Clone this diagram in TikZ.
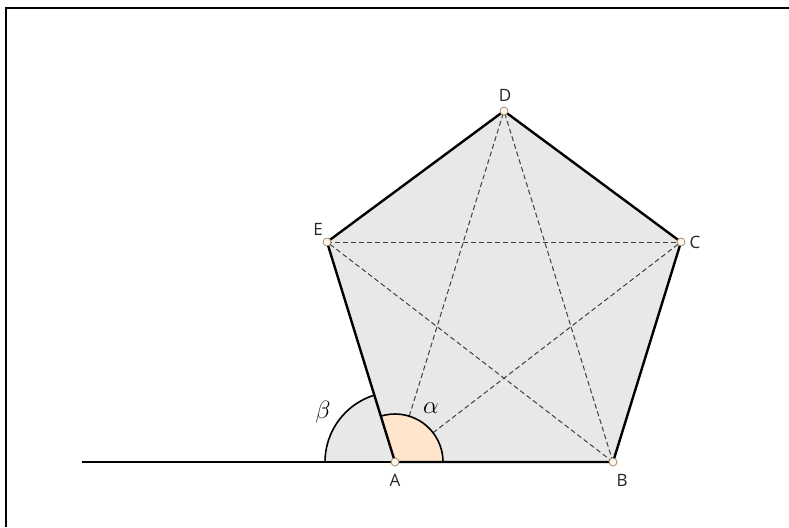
\documentclass[tikz,border=0pt]{standalone}
\usepackage{fontspec}
\setsansfont{Open Sans}
\usetikzlibrary{calc}
\begin{document}
\begin{tikzpicture}[x=1pt,y=-1pt,
  edge/.style={line width=2.4pt,black},
  diag/.style={line width=1pt,black!75,dash pattern=on 5pt off 3pt},
  pt/.style={circle,inner sep=0pt,minimum size=8pt,draw=brown!60!black!70,fill=orange!8,line width=0.7pt},
  lab/.style={font=\sffamily\fontsize{17}{17}\selectfont,text=black!85},
  glab/.style={font=\fontsize{30}{30}\selectfont}]
\useasboundingbox[fill=white] (0,0) rectangle (789,527);
% frame
\draw[line width=2.4pt] (6,527) -- (6,8) -- (789,8);
% points
\coordinate (Ap) at (395,462);
\coordinate (Bp) at (613,462);
\coordinate (Cp) at (681,242);
\coordinate (Dp) at (504,111);
\coordinate (Ep) at (327,242);
\coordinate (G) at (82,462);
% pentagon fill
\fill[black!9] (Ap) -- (Bp) -- (Cp) -- (Dp) -- (Ep) -- cycle;
% beta sector
\fill[black!9] (Ap) -- ++(180:70pt) arc[start angle=180,end angle=107.2,radius=70pt] -- cycle;
% diagonals
\draw[diag] (Ap) -- (Cp);
\draw[diag] (Ap) -- (Dp);
\draw[diag] (Bp) -- (Dp);
\draw[diag] (Bp) -- (Ep);
\draw[diag] (Ep) -- (Cp);
% alpha sector
\fill[orange!20] (Ap) -- ++(0:48pt) arc[start angle=0,end angle=107.2,radius=48pt] -- cycle;
\draw[line width=1.6pt] ($(Ap)+(48pt,0pt)$) arc[start angle=0,end angle=107.2,radius=48pt];
\draw[line width=1.6pt] ($(Ap)+(-70pt,0pt)$) arc[start angle=180,end angle=107.2,radius=70pt];
% edges
\draw[line width=1.8pt] (G) -- (Ap);
\draw[edge] (Ap) -- (Bp) -- (Cp) -- (Dp) -- (Ep) -- cycle;
% point marks
\node[pt] (A) at (Ap) {};
\node[pt] (B) at (Bp) {};
\node[pt] (C) at (Cp) {};
\node[pt] (D) at (Dp) {};
\node[pt] (E) at (Ep) {};
\node[lab] (la) at (395,480) {A};
\node[lab] (lb) at (622,480) {B};
\node[lab] (lc) at (695,242) {C};
\node[lab] (ld) at (505,95) {D};
\node[lab] (le) at (318,229) {E};
\node[glab] (beta) at (323,412) {$\beta$};
\node[glab] (alpha) at (431,408) {$\alpha$};
\end{tikzpicture}
\end{document}
